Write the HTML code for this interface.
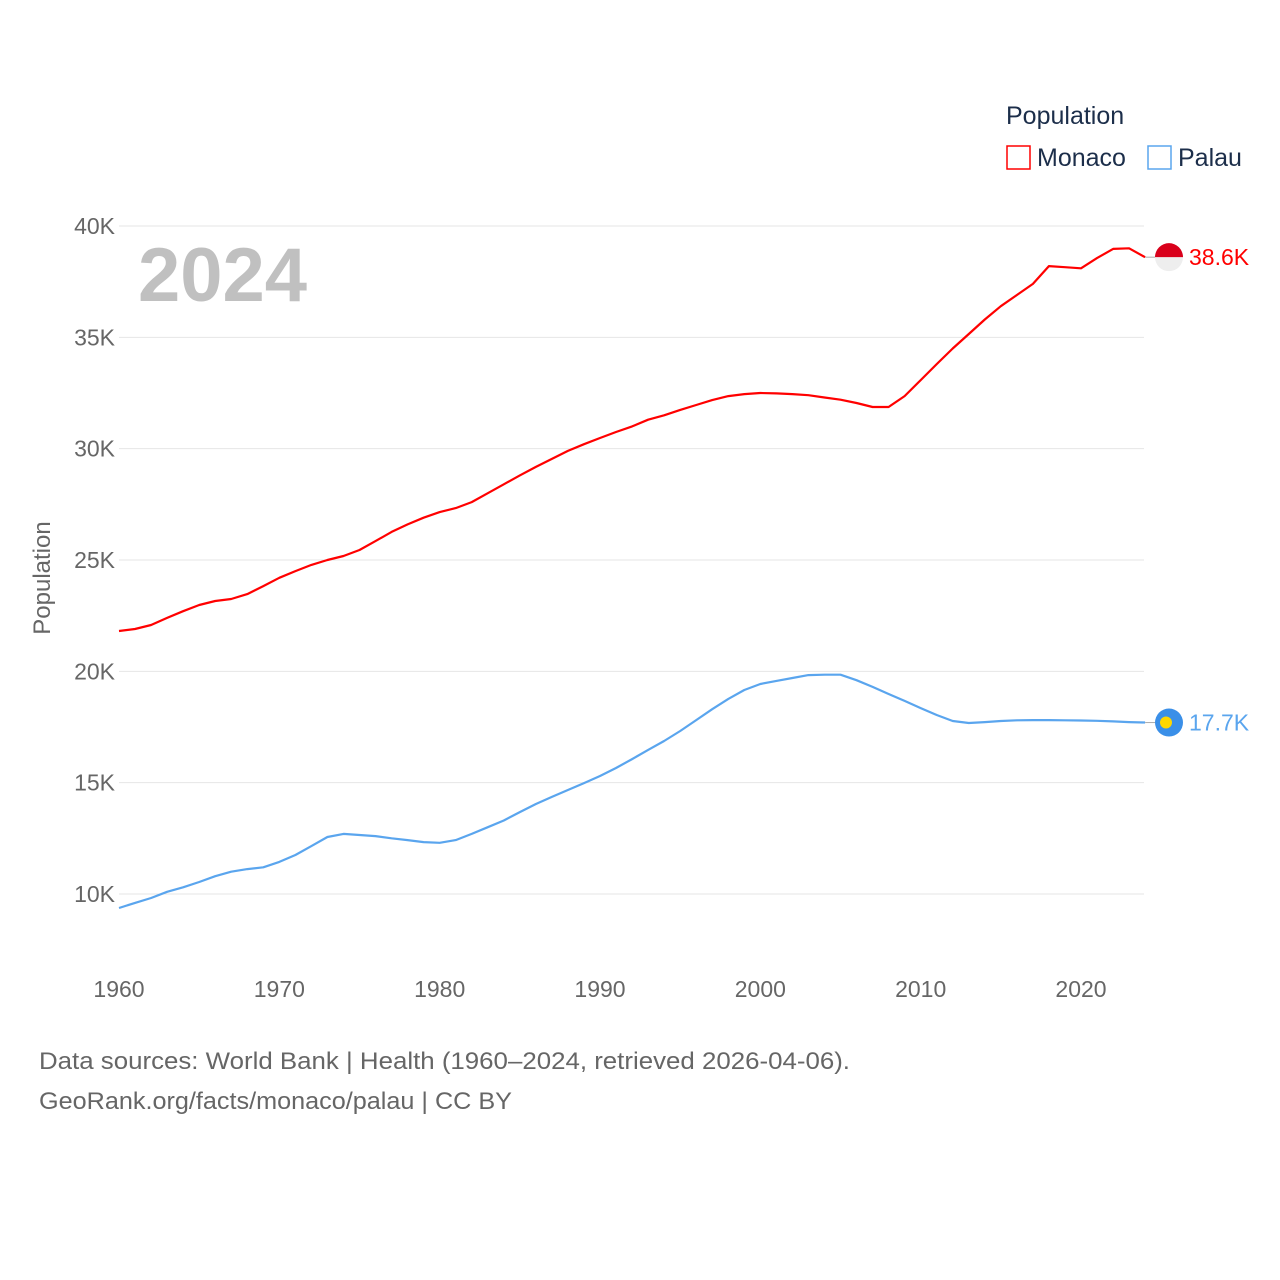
<!DOCTYPE html>
<html><head><meta charset="utf-8">
<style>
body{margin:0;background:#fff;}
svg{display:block;font-family:"Liberation Sans",sans-serif;}
</style></head>
<body>
<svg id="chart" width="1280" height="1280" viewBox="0 0 1280 1280">
<g id="grid"></g>
<g id="yticks"></g>
<g id="xticks"></g>
<text x="138" y="301" font-size="76" font-weight="bold" fill="#c0c0c0">2024</text>
<text transform="translate(50,578) rotate(-90)" text-anchor="middle" font-size="24" fill="#666">Population</text>
<g id="series"></g>
<g>
<text x="1006" y="124" font-size="25" fill="#1c2e4a">Population</text>
<g>
<rect x="1007" y="146" width="23" height="23" fill="none" stroke="#ff0000" stroke-width="1.5"/>
<text x="1037" y="166" font-size="25" fill="#1c2e4a">Monaco</text></g>
<g>
<rect x="1148" y="146" width="23" height="23" fill="none" stroke="#5aa5ee" stroke-width="1.5"/>
<text x="1178" y="166" font-size="25" fill="#1c2e4a">Palau</text></g>
</g>
<text x="39" y="1069" font-size="24" fill="#666" textLength="811" lengthAdjust="spacingAndGlyphs">Data sources: World Bank | Health (1960–2024, retrieved 2026-04-06).</text>
<text x="39" y="1109" font-size="24" fill="#666" textLength="473" lengthAdjust="spacingAndGlyphs">GeoRank.org/facts/monaco/palau | CC BY</text>
</svg>
<script>
const years=[];for(let y=1960;y<=2024;y++)years.push(y);
const monaco=[21.81,21.9,22.08,22.4,22.7,22.98,23.16,23.25,23.47,23.83,24.2,24.5,24.78,25.0,25.18,25.45,25.85,26.26,26.6,26.9,27.15,27.33,27.6,28.0,28.4,28.8,29.18,29.54,29.9,30.2,30.48,30.75,31.0,31.3,31.5,31.74,31.96,32.18,32.36,32.45,32.5,32.48,32.45,32.4,32.3,32.2,32.05,31.87,31.87,32.36,33.08,33.8,34.5,35.15,35.8,36.4,36.9,37.4,38.2,38.15,38.1,38.56,38.97,39.0,38.6];
const palau=[9.37,9.6,9.82,10.1,10.3,10.54,10.8,11.0,11.12,11.2,11.44,11.75,12.15,12.56,12.7,12.65,12.6,12.5,12.42,12.33,12.3,12.42,12.7,13.0,13.3,13.68,14.04,14.36,14.67,14.98,15.3,15.66,16.06,16.47,16.87,17.32,17.81,18.3,18.76,19.16,19.43,19.57,19.7,19.83,19.85,19.85,19.6,19.3,18.98,18.67,18.35,18.04,17.77,17.68,17.72,17.77,17.8,17.81,17.81,17.8,17.79,17.78,17.75,17.72,17.7];
const yTicks=[10,15,20,25,30,35,40];
const xTicks=[1960,1970,1980,1990,2000,2010,2020];
const NS="http://www.w3.org/2000/svg";
const X=y=>119+(y-1960)*(1081-119)/60;
const Y=v=>894-(v-10)*(894-226)/30;
function mk(tag,attrs,parent){const e=document.createElementNS(NS,tag);for(const k in attrs)e.setAttribute(k,attrs[k]);parent.appendChild(e);return e;}
const grid=document.getElementById('grid'),yt=document.getElementById('yticks'),xt=document.getElementById('xticks'),ser=document.getElementById('series');
yTicks.forEach(v=>{
 const l=mk('line',{x1:119,x2:1144,y1:Y(v),y2:Y(v),stroke:'#e6e6e6','stroke-width':1},grid);
 
 
 const t=mk('text',{x:115,y:Y(v)+8,'text-anchor':'end','font-size':23,fill:'#666'},yt);
 t.textContent=v+'K';
 
 
});
xTicks.forEach(y=>{
 const t=mk('text',{x:X(y),y:997,'text-anchor':'middle','font-size':23,fill:'#666'},xt);
 t.textContent=y;
 
 
});
function line(data,color,name){
 const d=data.map((v,i)=>(i?'L':'M')+X(years[i]).toFixed(1)+','+Y(v).toFixed(1)).join('');
 const p=mk('path',{d:d,fill:'none',stroke:color,'stroke-width':2.2,'stroke-linejoin':'round'},ser);
 
 
 const last=data[data.length-1],ly=Y(last);
 mk('line',{x1:X(2024),x2:1158,y1:ly,y2:ly,stroke:'#aaa','stroke-width':1},ser);
 return ly;
}
const my=line(monaco,'#ff0000','monaco');
const py=line(palau,'#5aa5ee','palau');
const mf=mk('g',{},ser);


mk('circle',{cx:1169,cy:my,r:14,fill:'#eeeeee'},mf);
mk('path',{d:`M1155,${my} A14,14 0 0 1 1183,${my} Z`,fill:'#d9001b'},mf);
const ml=mk('text',{x:1189,y:my+8,'font-size':23,fill:'#ff0000'},ser);
ml.textContent=monaco[monaco.length-1].toFixed(1)+'K';


const pf=mk('g',{},ser);


mk('circle',{cx:1169,cy:py,r:14,fill:'#3a8fe8'},pf);
mk('circle',{cx:1166,cy:py,r:6,fill:'#ffd700'},pf);
const pl=mk('text',{x:1189,y:py+8,'font-size':23,fill:'#5aa5ee'},ser);
pl.textContent=palau[palau.length-1].toFixed(1)+'K';


</script>
</body></html>
